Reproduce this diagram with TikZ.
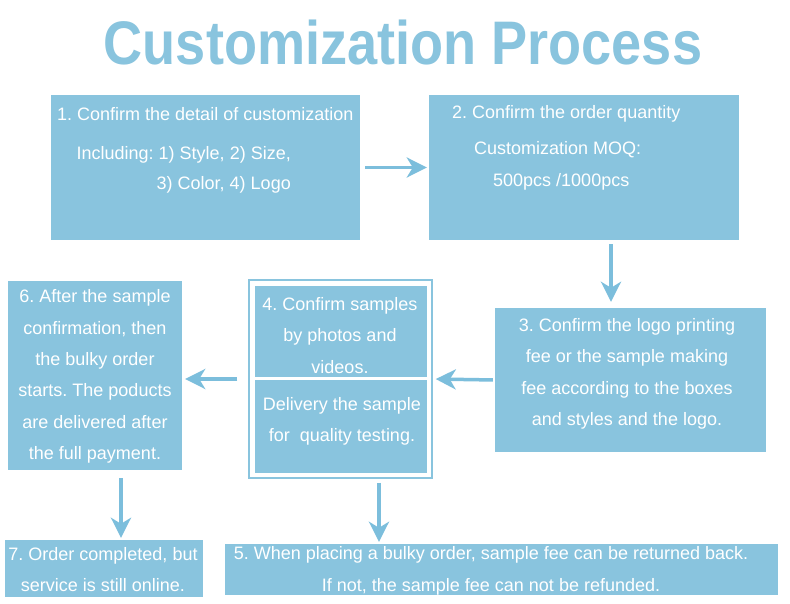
\documentclass[tikz,border=0pt]{standalone}
\usepackage{fontspec}
\setmainfont{Liberation Sans}
\newfontfamily\titlefont[FakeStretch=0.88]{Liberation Sans}
\usepackage{tikz}
\usetikzlibrary{arrows.meta,positioning}
\definecolor{boxblue}{RGB}{137,196,222}
\definecolor{arrowblue}{RGB}{124,190,220}
\frenchspacing

\begin{document}
\begin{tikzpicture}[
  x=1pt, y=-1pt,
  stepbox/.style={rectangle, fill=boxblue, draw=none, inner sep=0pt},
  frame/.style={rectangle, draw=boxblue, line width=1.5pt, inner sep=0pt},
  txt/.style={text=white, inner sep=0pt, align=center, font=\fontsize{18}{31.4}\selectfont},
  title/.style={text=boxblue, inner sep=0pt, font=\titlefont\bfseries\fontsize{61.5}{64}\selectfont},
  arr/.style={-{Stealth[length=20pt, width=20pt, inset=6pt]}, line width=3.5pt, draw=arrowblue}
]
\useasboundingbox[fill=white] (0,0) rectangle (790,604);

\node[title] (title) at (403,43) {Customization Process};

\node[stepbox, minimum width=309, minimum height=145] (b1) at (205.5,167.5) {};
\node[stepbox, minimum width=310, minimum height=145] (b2) at (584,167.5) {};
\node[stepbox, minimum width=271, minimum height=144] (b3) at (630.5,380) {};
\node[frame, minimum width=183, minimum height=198] (b4) at (340.5,379) {};
\node[stepbox, minimum width=172, minimum height=91] (b4a) at (341,331.5) {};
\node[stepbox, minimum width=172, minimum height=93] (b4b) at (341,426.5) {};
\node[stepbox, minimum width=174, minimum height=189] (b6) at (95,375.5) {};
\node[stepbox, minimum width=198, minimum height=57] (b7) at (104,568.5) {};
\node[stepbox, minimum width=553, minimum height=51] (b5) at (501.5,569.5) {};

\node[txt, anchor=west] (t1a) at (57,114) {1. Confirm the detail of customization};
\node[txt, anchor=east, align=right, font=\fontsize{18}{30}\selectfont] (t1b) at (291,170) {Including: 1) Style, 2) Size,\\3) Color, 4) Logo};
\node[txt, anchor=west] (t2a) at (452,114) {2. Confirm the order quantity};
\node[txt, anchor=west] (t2b) at (474,150) {Customization MOQ:};
\node[txt, anchor=west] (t2c) at (493,182) {500pcs /1000pcs};
\node[txt] (t3) at (627,374) {3. Confirm the logo printing\\fee or the sample making\\fee according to the boxes\\and styles and the logo.};
\node[txt] (t4a) at (340,335.5) {4. Confirm samples\\by photos and\\videos.};
\node[txt] (t4b) at (342,421.5) {Delivery the sample\\for\ \ quality testing.};
\node[txt] (t6) at (95,376.5) {6. After the sample\\confirmation, then\\the bulky order\\starts. The poducts\\are delivered after\\the full payment.};
\node[txt, font=\fontsize{18}{31}\selectfont] (t7) at (103,569.5) {7. Order completed, but\\service is still online.};
\node[txt, font=\fontsize{18}{32}\selectfont] (t5) at (491,571) {5. When placing a bulky order, sample fee can be returned back.\\If not, the sample fee can not be refunded.};

\draw[arr, shorten <=5pt, shorten >=2pt] (b1.east) -- (b2.west);
\draw[arr, shorten <=4pt, shorten >=6pt] ([xshift=27pt]b2.south) -- ([xshift=27pt]b2.south |- b3.north);
\draw[arr, shorten <=2pt, shorten >=3pt] (b3.west) -- (b4.east);
\draw[arr, shorten <=11pt, shorten >=3pt] (b4.west) -- (b4.west -| b6.east);
\draw[arr, shorten <=8pt, shorten >=2pt] ([xshift=26pt]b6.south) -- ([xshift=26pt]b6.south |- b7.north);
\draw[arr, shorten <=4pt, shorten >=2pt] ([xshift=38.5pt]b4.south) -- ([xshift=38.5pt]b4.south |- b5.north);
\end{tikzpicture}
\end{document}
